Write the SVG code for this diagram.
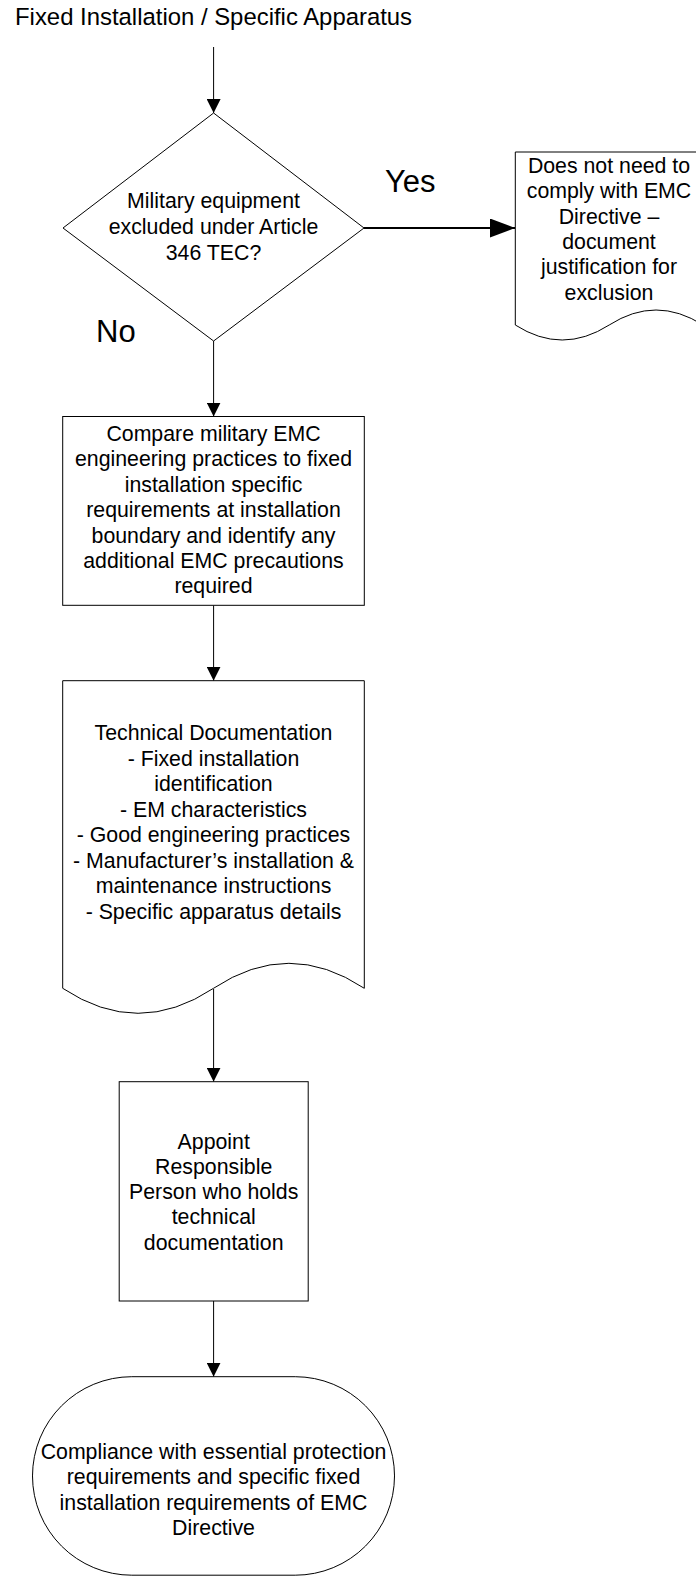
<svg xmlns="http://www.w3.org/2000/svg" width="696" height="1578" viewBox="0 0 696 1578">
<style>
.shape{fill:#fff;stroke:#000;stroke-width:1}
.t{font-family:"Liberation Sans",Arial,sans-serif;font-size:21.3px;fill:#000;text-anchor:middle}
.lbl{font-family:"Liberation Sans",Arial,sans-serif;font-size:31px;fill:#000}
.title{font-family:"Liberation Sans",Arial,sans-serif;font-size:23.9px;fill:#000}
.ln{fill:none;stroke:#000;stroke-width:1}
.lnb{fill:none;stroke:#000;stroke-width:2}
</style>
<defs>
<marker id="arr" viewBox="0 0 14 14" refX="14" refY="7" markerWidth="14" markerHeight="14" markerUnits="userSpaceOnUse" orient="auto">
<path d="M0,0 L14,7 L0,14 z" fill="#000"/>
</marker>
<marker id="arrBig" viewBox="0 0 25 19" refX="25" refY="9.5" markerWidth="25" markerHeight="19" markerUnits="userSpaceOnUse" orient="auto">
<path d="M0,0 L25,9.5 L0,19 z" fill="#000"/>
</marker>
</defs>
<rect width="696" height="1578" fill="#fff"/>
<text class="title" x="15" y="25">Fixed Installation / Specific Apparatus</text>

<g id="connectors">
<line class="ln" x1="213.6" y1="47" x2="213.6" y2="113" marker-end="url(#arr)"/>
<line class="lnb" x1="364" y1="228" x2="515" y2="228" marker-end="url(#arrBig)"/>
<line class="ln" x1="213.6" y1="341" x2="213.6" y2="416.5" marker-end="url(#arr)"/>
<line class="ln" x1="213.6" y1="605.3" x2="213.6" y2="680.7" marker-end="url(#arr)"/>
<line class="ln" x1="213.6" y1="989" x2="213.6" y2="1081.7" marker-end="url(#arr)"/>
<line class="ln" x1="213.6" y1="1301" x2="213.6" y2="1376.7" marker-end="url(#arr)"/>
<text class="lbl" x="385" y="192">Yes</text>
<text class="lbl" x="96" y="342">No</text>
</g>

<g id="decision">
<polygon class="shape" points="213.6,113 364,228 213.6,341 63,228"/>
<text class="t" x="213.5" y="208.3">Military equipment</text>
<text class="t" x="213.5" y="234">excluded under Article</text>
<text class="t" x="213.5" y="259.5">346 TEC?</text>
</g>

<g id="excluded">
<path class="shape" d="M515.3,152 L703,152 L703,325 Q656,295 609.2,325 Q562.2,355 515.3,325 Z"/>
<text class="t" x="609" y="173">Does not need to</text>
<text class="t" x="609" y="198.3">comply with EMC</text>
<text class="t" x="609" y="223.6">Directive –</text>
<text class="t" x="609" y="248.9">document</text>
<text class="t" x="609" y="274.2">justification for</text>
<text class="t" x="609" y="299.5">exclusion</text>
</g>

<g id="compare">
<rect class="shape" x="62.7" y="416.5" width="301.6" height="188.8"/>
<text class="t" x="213.5" y="441">Compare military EMC</text>
<text class="t" x="213.5" y="466.4">engineering practices to fixed</text>
<text class="t" x="213.5" y="491.8">installation specific</text>
<text class="t" x="213.5" y="517.2">requirements at installation</text>
<text class="t" x="213.5" y="542.6">boundary and identify any</text>
<text class="t" x="213.5" y="568">additional EMC precautions</text>
<text class="t" x="213.5" y="593.4">required</text>
</g>

<g id="techdoc">
<path class="shape" d="M62.7,680.7 L364.3,680.7 L364.3,988.3 Q288.9,938.3 213.5,988.3 Q138.1,1038.3 62.7,988.3 Z"/>
<text class="t" x="213.5" y="740">Technical Documentation</text>
<text class="t" x="213.5" y="765.5">- Fixed installation</text>
<text class="t" x="213.5" y="791">identification</text>
<text class="t" x="213.5" y="816.5">- EM characteristics</text>
<text class="t" x="213.5" y="842">- Good engineering practices</text>
<text class="t" x="213.5" y="867.5">- Manufacturer’s installation &amp;</text>
<text class="t" x="213.5" y="893">maintenance instructions</text>
<text class="t" x="213.5" y="918.5">- Specific apparatus details</text>
</g>

<g id="appoint">
<rect class="shape" x="119.2" y="1081.7" width="189" height="219.3"/>
<text class="t" x="213.7" y="1148.7">Appoint</text>
<text class="t" x="213.7" y="1173.9">Responsible</text>
<text class="t" x="213.7" y="1199.1">Person who holds</text>
<text class="t" x="213.7" y="1224.3">technical</text>
<text class="t" x="213.7" y="1249.5">documentation</text>
</g>

<g id="compliance">
<rect class="shape" x="32.5" y="1376.7" width="362" height="198.5" rx="99.25" ry="99.25"/>
<text class="t" x="213.5" y="1458.5">Compliance with essential protection</text>
<text class="t" x="213.5" y="1484">requirements and specific fixed</text>
<text class="t" x="213.5" y="1509.5">installation requirements of EMC</text>
<text class="t" x="213.5" y="1535">Directive</text>
</g>
</svg>
